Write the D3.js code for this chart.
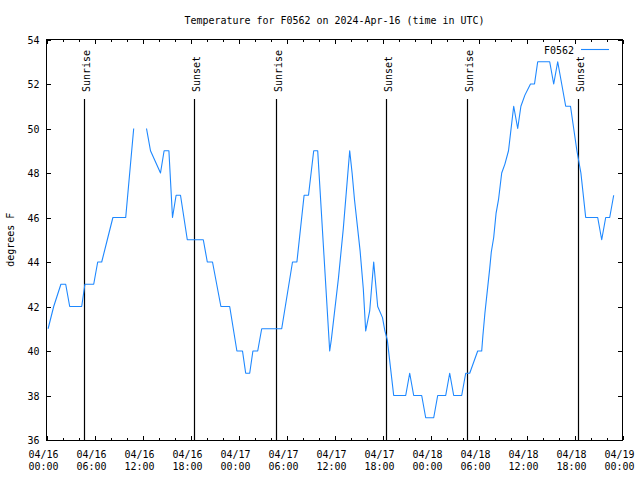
<!DOCTYPE html>
<html>
<head>
<meta charset="utf-8">
<script src="https://cdn.jsdelivr.net/npm/d3@7"></script>
<style>
  html, body { margin: 0; padding: 0; background: #fff; }
  svg text { font-family: "DejaVu Sans Mono", "Liberation Mono", monospace; font-size: 11px; fill: #000; }
</style>
</head>
<body>
<svg id="chart" width="640" height="480"></svg>
<script>
// ---- data ----
const startTime = "2024-04-16T00:00:00Z";
const endTime = "2024-04-19T00:00:00Z";
const titleText = "Temperature for F0562 on 2024-Apr-16 (time in UTC)";
const seriesName = "F0562";
const yLabel = "degrees F";
const yTicks = [36, 38, 40, 42, 44, 46, 48, 50, 52, 54];
// hours since startTime, temperature (null = gap in the record)
const hours = [0.2,0.9,1.8,2.4,2.9,4.4,4.8,5.9,6.4,6.9,7.6,8.3,9.9,10.4,10.9,11.7,12.5,12.7,13.0,14.25,14.7,15.3,15.75,16.2,16.75,17.6,19.6,20.1,20.75,21.8,22.9,23.8,24.5,24.9,25.4,25.8,26.4,26.9,29.4,30.75,31.3,32.2,32.75,33.4,33.9,35.4,35.6,36.5,37.1,37.9,38.2,38.5,39.2,39.6,39.9,40.4,40.9,41.1,41.4,42.0,42.3,42.6,43.4,44.9,45.4,45.9,46.9,47.4,48.4,48.9,49.9,50.4,50.9,51.9,52.4,52.9,53.9,54.4,54.55,54.8,55.1,55.4,55.6,55.9,56.2,56.5,56.9,57.3,57.75,58.4,58.9,59.3,59.8,60.5,61.0,61.4,62.9,63.4,63.9,64.4,64.9,65.5,65.9,66.3,66.8,67.4,68.9,69.4,69.9,70.4,70.9];
const temps = [41,42,43,43,42,42,43,43,44,44,45,46,46,48,50,null,50,49.6,49,48,49,49,46,47,47,45,45,44,44,42,42,40,40,39,39,40,40,41,41,44,44,47,47,49,49,40,40.5,43.3,45.5,49,48,46.8,44.5,42.8,40.9,41.8,44,43.2,42,41.5,40.9,40.5,38,38,39,38,38,37,37,38,38,39,38,38,39,39,40,40,40.7,41.7,42.7,43.7,44.45,45.1,46.2,46.8,48,48.4,49,51,50,51,51.5,52,52,53,53,52,53,52,51,51,50,49,48,46,46,45,46,46,47];
const sunLabels = ["Sunrise","Sunset","Sunrise","Sunset","Sunrise","Sunset"];
const sunTimes = ["2024-04-16T04:45:00Z","2024-04-16T18:30:00Z","2024-04-17T04:45:00Z","2024-04-17T18:30:00Z","2024-04-18T04:36:00Z","2024-04-18T18:30:00Z"];

// ---- layout ----
const svg = d3.select("#chart");
const L = 46.5, R = 622.5, T = 39.5, B = 440;
const t0 = new Date(startTime);
const x = d3.scaleUtc().domain([t0, new Date(endTime)]).range([L, R]);
const y = d3.scaleLinear().domain([36, 54]).range([B, T]);
const lineColor = "#1e88ff";
const cw = 6; // char cell width
function fitText(sel) {
  sel.each(function() {
    const s = d3.select(this).text();
    d3.select(this).attr("textLength", s.length * cw).attr("lengthAdjust", "spacingAndGlyphs");
  });
  return sel;
}

const data = hours.map((h, i) => ({ t: new Date(t0.getTime() + h * 3600e3), v: temps[i] }));

// title
svg.append("text").attr("x", (L + R) / 2).attr("y", 24).attr("text-anchor", "middle")
  .text(titleText).call(fitText);

// y label
svg.append("text").attr("transform", `translate(14,${(T + B) / 2}) rotate(-90)`)
  .attr("text-anchor", "middle").text(yLabel).call(fitText);

// axes (ticks pointing inward)
const major = d3.utcHour.every(6), minor = d3.utcHour.every(2);
const fmtDate = d3.utcFormat("%m/%d"), fmtTime = d3.utcFormat("%H:%M");

const gxMinor = svg.append("g").attr("transform", `translate(0,${B})`)
  .call(d3.axisBottom(x).ticks(minor).tickSize(-2.5).tickFormat(""));
const gxMinorTop = svg.append("g").attr("transform", `translate(0,${T})`)
  .call(d3.axisTop(x).ticks(minor).tickSize(-2.5).tickFormat(""));
const gxMajor = svg.append("g").attr("transform", `translate(0,${B})`)
  .call(d3.axisBottom(x).ticks(major).tickSize(-4.5).tickPadding(12).tickFormat(""));
const gxMajorTop = svg.append("g").attr("transform", `translate(0,${T})`)
  .call(d3.axisTop(x).ticks(major).tickSize(-4.5).tickFormat(""));
const gyL = svg.append("g").attr("transform", `translate(${L},0)`)
  .call(d3.axisLeft(y).tickValues(yTicks).tickSize(-4.5).tickPadding(7).tickFormat(d3.format("d")));
const gyR = svg.append("g").attr("transform", `translate(${R},0)`)
  .call(d3.axisRight(y).tickValues(yTicks).tickSize(-4.5).tickFormat(""));

[gxMinor, gxMinorTop, gxMajor, gxMajorTop, gyL, gyR].forEach(g => {
  g.select(".domain").remove();
  g.selectAll(".tick line").attr("stroke", "#000").attr("stroke-width", 1).attr("shape-rendering", "crispEdges");
  g.attr("font-family", null).attr("font-size", null);
});
gyL.selectAll(".tick text").attr("x", -7).attr("dy", "0.35em").call(fitText);

// two-line x labels
x.ticks(major).forEach(d => {
  const tx = x(d) - 3;
  svg.append("text").attr("x", tx).attr("y", 458).attr("text-anchor", "middle").text(fmtDate(d)).call(fitText);
  svg.append("text").attr("x", tx).attr("y", 470).attr("text-anchor", "middle").text(fmtTime(d)).call(fitText);
});

// sunrise / sunset lines
sunTimes.forEach((s, i) => {
  const sx = Math.round(x(new Date(s)) - 0.5) + 0.5;
  svg.append("line").attr("x1", sx).attr("x2", sx).attr("y1", 99).attr("y2", B)
    .attr("stroke", "#000").attr("stroke-width", 1.2);
  svg.append("text").attr("transform", `translate(${sx + 5},92) rotate(-90)`)
    .attr("text-anchor", "start").text(sunLabels[i]).call(fitText);
});

// data line
const line = d3.line().defined(d => d.v != null).x(d => x(d.t)).y(d => y(d.v));
svg.append("path").datum(data).attr("d", line).attr("fill", "none")
  .attr("stroke", lineColor).attr("stroke-width", 1.1).attr("stroke-linejoin", "round");

// frame
svg.append("rect").attr("x", L).attr("y", T).attr("width", R - L).attr("height", B - T)
  .attr("fill", "none").attr("stroke", "#000").attr("stroke-width", 1).attr("shape-rendering", "crispEdges");

// legend
svg.append("text").attr("x", 574).attr("y", 54).attr("text-anchor", "end").text(seriesName).call(fitText);
svg.append("line").attr("x1", 581).attr("x2", 609).attr("y1", 49.5).attr("y2", 49.5)
  .attr("stroke", lineColor).attr("stroke-width", 1.1);
</script>
</body>
</html>
